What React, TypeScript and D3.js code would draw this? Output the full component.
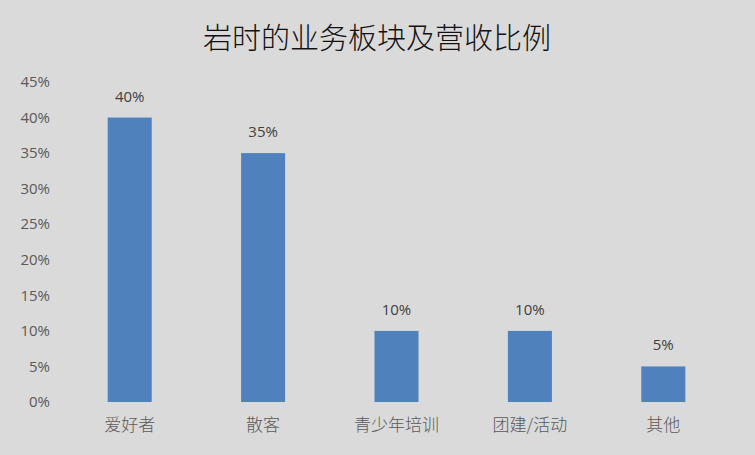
import * as d3 from "d3";
import { useEffect, useRef } from "react";

const categories = ["爱好者", "散客", "青少年培训", "团建/活动", "其他"];
const shares = [0.40, 0.35, 0.10, 0.10, 0.05];
const yTicks = [0, 0.05, 0.10, 0.15, 0.20, 0.25, 0.30, 0.35, 0.40, 0.45];
const title = "岩时的业务板块及营收比例";

const App = () => {
    const svgRef = useRef<SVGSVGElement | null>(null);

    useEffect(() => {
        const svg = d3.select(svgRef.current);
        svg.selectAll("*").remove();

        const width = 755, height = 455;
        const left = 63, right = 730, top = 82, bottom = 402;
        const font = "'Noto Sans CJK SC', 'Open Sans', sans-serif";

        svg.append("rect")
            .attr("width", width)
            .attr("height", height)
            .attr("fill", "#dadada");

        svg.append("text")
            .attr("x", 377)
            .attr("y", 49)
            .attr("text-anchor", "middle")
            .attr("font-family", font)
            .attr("font-size", 29)
            .attr("font-weight", 300)
            .attr("fill", "#111")
            .text(title);

        const x = d3.scaleBand()
            .domain(categories)
            .range([left, right])
            .paddingInner(0.67)
            .paddingOuter(0.335);

        const y = d3.scaleLinear()
            .domain([0, 0.45])
            .range([bottom, top]);

        const fmt = d3.format(".0%");

        // y axis labels only, no axis line or gridlines
        svg.append("g")
            .selectAll("text")
            .data(yTicks)
            .join("text")
            .attr("x", 50)
            .attr("y", d => y(d))
            .attr("dy", "0.35em")
            .attr("text-anchor", "end")
            .attr("font-family", "'Open Sans', sans-serif")
            .attr("font-size", 15)
            .attr("fill", "#595959")
            .text(d => fmt(d));

        svg.append("g")
            .selectAll("rect")
            .data(shares)
            .join("rect")
            .attr("x", (_, i) => x(categories[i]) as number)
            .attr("y", d => y(d))
            .attr("width", x.bandwidth())
            .attr("height", d => bottom - y(d))
            .attr("fill", "#4f81bd");

        svg.append("g")
            .selectAll("text")
            .data(shares)
            .join("text")
            .attr("x", (_, i) => (x(categories[i]) as number) + x.bandwidth() / 2)
            .attr("y", d => y(d) - 16)
            .attr("text-anchor", "middle")
            .attr("font-family", "'Open Sans', sans-serif")
            .attr("font-size", 15)
            .attr("fill", "#404040")
            .text(d => fmt(d));

        svg.append("g")
            .selectAll("text")
            .data(categories)
            .join("text")
            .attr("x", d => (x(d) as number) + x.bandwidth() / 2)
            .attr("y", 431)
            .attr("text-anchor", "middle")
            .attr("font-family", font)
            .attr("font-size", 17)
            .attr("font-weight", 300)
            .attr("fill", "#595959")
            .text(d => d);
    }, []);

    return <svg ref={svgRef} width={755} height={455} style={{ display: "block", position: "absolute", left: 0, top: 0 }} />;
};

export default App;
